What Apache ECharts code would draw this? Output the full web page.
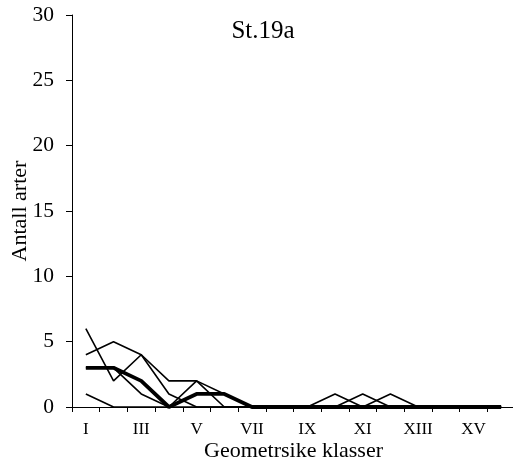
<!DOCTYPE html>
<html>
<head>
<meta charset="utf-8">
<script src="https://cdn.jsdelivr.net/npm/echarts@6/dist/echarts.min.js"></script>
<style>html,body{margin:0;padding:0;background:#fff;}#c{width:513px;height:468px;}</style>
</head>
<body>
<div id="c"></div>
<script>
const categories = ['I','II','III','IV','V','VI','VII','VIII','IX','X','XI','XII','XIII','XIV','XV','XVI'];
const seriesA = [6,2,4,1,0,0,0,0,0,0,0,1,0,0,0,0];
const seriesB = [4,5,4,2,2,1,0,0,0,0,0,0,0,0,0,0];
const seriesC = [3,3,1,0,2,0,0,0,0,0,1,0,0,0,0,0];
const seriesD = [1,0,0,0,0,0,0,0,0,1,0,0,0,0,0,0];
const seriesMean = [3,3,2,0,1,1,0,0,0,0,0,0,0,0,0,0];
const titleText = 'St.19a';
const xName = 'Geometrsike klasser';
const yName = 'Antall arter';

const font = '"Liberation Serif", "Times New Roman", serif';
const thin = (d) => ({type:'line', data:d, symbol:'none', lineStyle:{color:'#000', width:1.6}, z:2});

const chart = echarts.init(document.getElementById('c'), null, {renderer:'canvas'});
chart.setOption({
  animation:false,
  backgroundColor:'#fff',
  title:{text:titleText, left:258, top:14, textAlign:'center',
    textStyle:{fontFamily:font, fontWeight:'normal', fontSize:25, color:'#000'}},
  grid:{left:72, top:15, width:443, height:392, containLabel:false, outerBoundsMode:'none'},
  xAxis:{type:'category', data:categories, boundaryGap:true,
    name:xName, nameLocation:'middle', nameGap:33, nameMoveOverlap:false,
    nameTextStyle:{fontFamily:font, fontSize:22, color:'#000'},
    axisLine:{lineStyle:{color:'#000', width:1}},
    axisTick:{show:true, interval:0, length:5, lineStyle:{color:'#000'}},
    axisLabel:{interval:1, margin:14, fontFamily:font, fontSize:17, color:'#000'},
    splitLine:{show:false}},
  yAxis:{type:'value', min:0, max:30, interval:5,
    name:yName, nameLocation:'middle', nameGap:41, nameMoveOverlap:false,
    nameTextStyle:{fontFamily:font, fontSize:22, color:'#000'},
    axisLine:{show:true, lineStyle:{color:'#000', width:1}},
    axisTick:{show:true, length:6, lineStyle:{color:'#000'}},
    axisLabel:{margin:18, fontFamily:font, fontSize:21.5, color:'#000'},
    splitLine:{show:false}},
  series:[
    thin(seriesA), thin(seriesB), thin(seriesC), thin(seriesD),
    {type:'line', data:seriesMean, symbol:'none', lineStyle:{color:'#000', width:3.8}, z:3}
  ]
});
</script>
</body>
</html>
